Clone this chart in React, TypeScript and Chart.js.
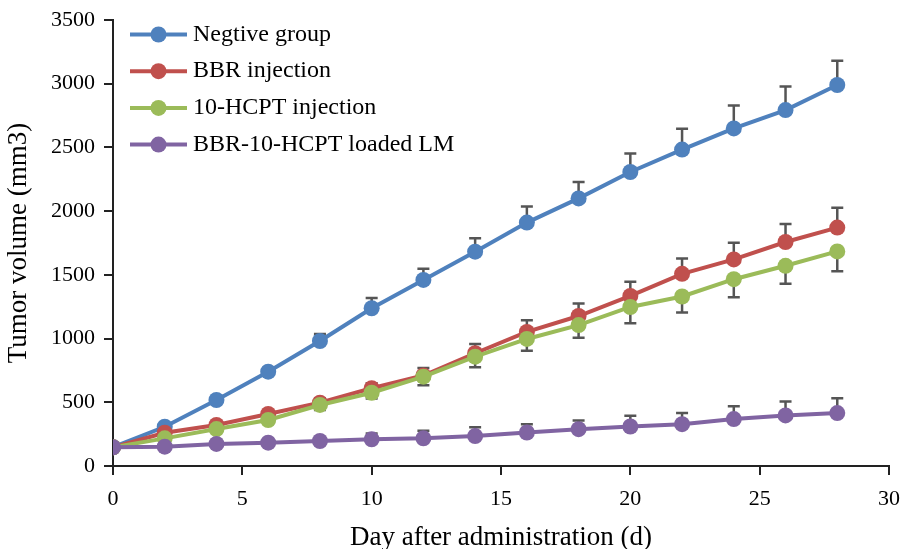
import React, { useEffect, useRef } from "react";
import { Chart, registerables } from "chart.js";

Chart.register(...registerables);

const days = [0, 2, 4, 6, 8, 10, 12, 14, 16, 18, 20, 22, 24, 26, 28];
const seriesNames = ["Negtive group", "BBR injection", "10-HCPT injection", "BBR-10-HCPT loaded LM"];
const negativeGroup = [147, 308, 518, 740, 981, 1238, 1460, 1682, 1910, 2100, 2307, 2483, 2649, 2793, 2990];
const bbrInjection = [147, 261, 322, 408, 497, 610, 710, 885, 1052, 1177, 1335, 1508, 1621, 1758, 1871];
const hcptInjection = [147, 217, 290, 361, 479, 575, 701, 858, 997, 1106, 1248, 1330, 1466, 1571, 1684];
const loadedLM = [147, 152, 173, 183, 196, 209, 217, 235, 263, 289, 310, 328, 368, 397, 415];
const negativeErr = [0, 15, 20, 30, 55, 80, 88, 105, 126, 128, 145, 163, 180, 185, 190];
const bbrErr = [0, 15, 20, 25, 35, 40, 60, 73, 92, 98, 110, 121, 131, 142, 155];
const hcptErr = [0, 15, 20, 25, 40, 45, 68, 83, 92, 100, 128, 125, 142, 140, 155];
const loadedErr = [0, 10, 15, 20, 30, 47, 60, 69, 65, 68, 84, 87, 100, 110, 116];
const colors = ["#4F81BD", "#C0504D", "#9BBB59", "#8064A2"];
const errDirections = [1, 1, -1, 1];

const FONT = "'Liberation Serif', 'Times New Roman', serif";

export default function App() {
  const ref = useRef<HTMLCanvasElement | null>(null);

  useEffect(() => {
    const values = [negativeGroup, bbrInjection, hcptInjection, loadedLM];
    const errs = [negativeErr, bbrErr, hcptErr, loadedErr];

    const errorBars = {
      id: "errorBars",
      beforeDatasetsDraw(chart: any) {
        const ctx = chart.ctx;
        const ys = chart.scales.y;
        ctx.save();
        ctx.strokeStyle = "#555555";
        ctx.lineWidth = 2.5;
        chart.data.datasets.forEach((ds: any, di: number) => {
          const meta = chart.getDatasetMeta(di);
          meta.data.forEach((pt: any, i: number) => {
            const e = errs[di][i];
            if (!e) return;
            const v = values[di][i] + errDirections[di] * e;
            const y0 = pt.y;
            const y1 = ys.getPixelForValue(v);
            ctx.beginPath();
            ctx.moveTo(pt.x, y0);
            ctx.lineTo(pt.x, y1);
            ctx.moveTo(pt.x - 6, y1);
            ctx.lineTo(pt.x + 6, y1);
            ctx.stroke();
          });
        });
        ctx.restore();
      },
    };

    const legendPlugin = {
      id: "customLegend",
      afterDraw(chart: any) {
        const ctx = chart.ctx;
        ctx.save();
        seriesNames.forEach((name, i) => {
          const y = 34.5 + i * 36.7;
          ctx.strokeStyle = colors[i];
          ctx.lineWidth = 4;
          ctx.beginPath();
          ctx.moveTo(130, y);
          ctx.lineTo(187, y);
          ctx.stroke();
          ctx.fillStyle = colors[i];
          ctx.beginPath();
          ctx.arc(158.5, y, 8, 0, Math.PI * 2);
          ctx.fill();
          ctx.fillStyle = "#000";
          ctx.font = `24px ${FONT}`;
          ctx.textBaseline = "middle";
          ctx.textAlign = "left";
          ctx.fillText(name, 193, y);
        });
        ctx.restore();
      },
    };

    const chart = new Chart(ref.current as HTMLCanvasElement, {
      type: "line",
      data: {
        labels: days,
        datasets: values.map((vals, i) => ({
          label: seriesNames[i],
          data: vals.map((v, j) => ({ x: days[j], y: v })),
          borderColor: colors[i],
          backgroundColor: colors[i],
          borderWidth: 4,
          pointRadius: 8,
          pointBorderWidth: 0,
          pointBackgroundColor: colors[i],
          tension: 0,
          fill: false,
          order: 3 - i,
        })),
      },
      options: {
        animation: false,
        responsive: true,
        maintainAspectRatio: false,
        layout: { padding: { left: 0, right: 12, top: 20, bottom: 0 } },
        plugins: {
          legend: { display: false },
          tooltip: { enabled: false },
        },
        scales: {
          x: {
            type: "linear",
            min: 0,
            max: 30,
            afterFit: (s: any) => {
              s.height = 83;
              s.paddingRight = 0;
              s.paddingLeft = 0;
            },
            ticks: {
              stepSize: 5,
              color: "#000",
              font: { family: FONT, size: 22 },
              padding: 11,
              maxRotation: 0,
              autoSkip: false,
              callback: (v: any) => String(v),
            },
            grid: {
              display: true,
              drawOnChartArea: false,
              drawTicks: true,
              tickLength: 9,
              color: "#222",
              lineWidth: 2,
            },
            border: { display: true, color: "#222", width: 2 },
            title: {
              display: true,
              text: "Day after administration (d)",
              color: "#000",
              font: { family: FONT, size: 27, lineHeight: 1 },
              padding: { top: 0, bottom: -2 },
            },
          },
          y: {
            type: "linear",
            min: 0,
            max: 3500,
            afterFit: (s: any) => {
              s.width = 113;
              s.paddingTop = 0;
              s.paddingBottom = 0;
            },
            ticks: {
              stepSize: 500,
              color: "#000",
              font: { family: FONT, size: 22 },
              padding: 9,
              callback: (v: any) => String(v),
            },
            grid: {
              display: true,
              drawOnChartArea: false,
              drawTicks: true,
              tickLength: 9,
              color: "#222",
              lineWidth: 2,
            },
            border: { display: true, color: "#222", width: 2 },
            title: {
              display: true,
              text: "Tumor volume (mm3)",
              color: "#000",
              font: { family: FONT, size: 27, lineHeight: 1 },
              padding: { top: 5, bottom: 0 },
            },
          },
        },
      },
      plugins: [errorBars, legendPlugin],
    });
    return () => chart.destroy();
  }, []);

  return (
    <div style={{ position: "absolute", left: 0, top: 0, width: 901, height: 549, background: "#fff" }}>
      <canvas ref={ref} />
    </div>
  );
}
